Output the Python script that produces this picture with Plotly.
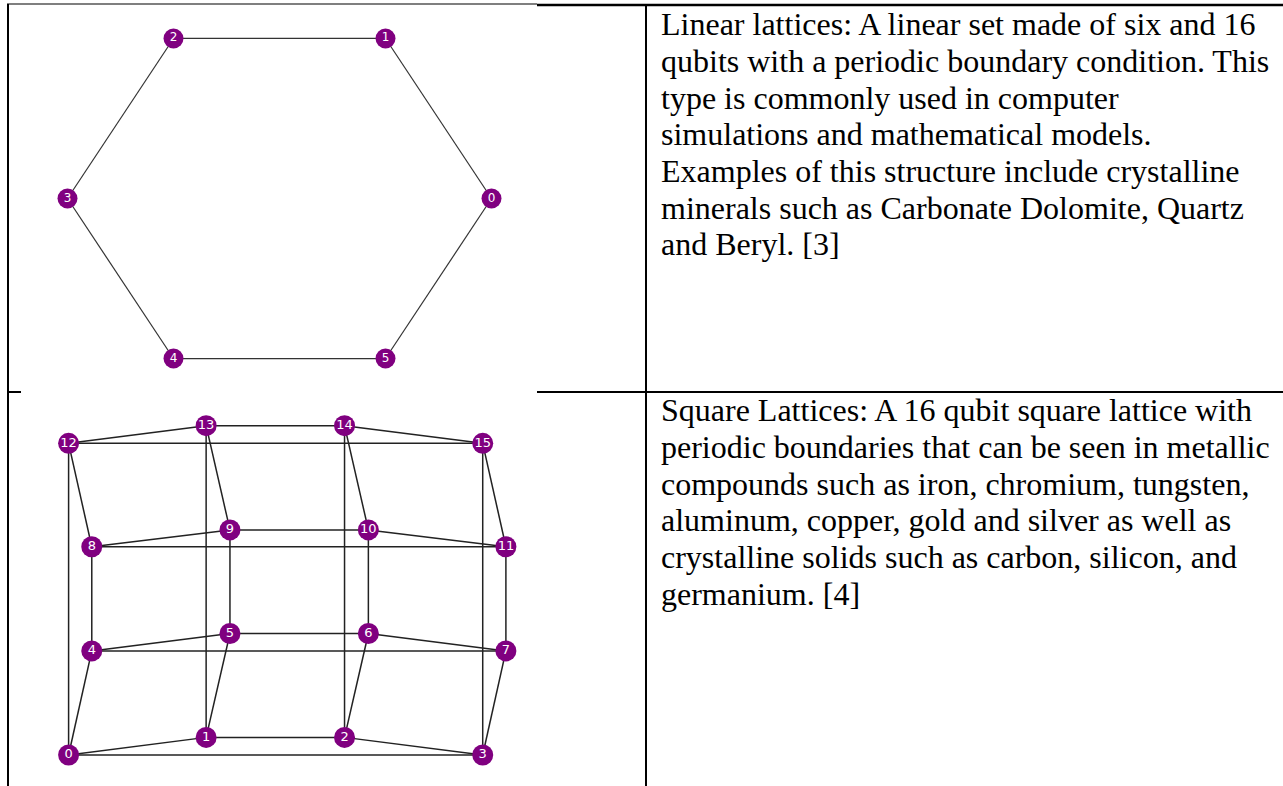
import plotly.graph_objects as go

W, H = 1283, 786

# six-qubit ring (circular layout coordinates)
ring_labels = ["0", "1", "2", "3", "4", "5"]
ring_x = [1.0, 0.5, -0.5, -1.0, -0.5, 0.5]
ring_y = [0.0, 0.866, 0.866, 0.0, -0.866, -0.866]
ring_edges = [(0, 1), (1, 2), (2, 3), (3, 4), (4, 5), (5, 0)]

# 16-qubit square lattice with periodic boundaries
sq_labels = [str(i) for i in range(16)]
sq_x = [-1.0, -0.371, 0.262, 0.894,
        -0.894, -0.262, 0.371, 1.0,
        -0.894, -0.262, 0.371, 1.0,
        -1.0, -0.371, 0.262, 0.894]
sq_y = [-1.0, -0.893, -0.893, -1.0,
        -0.368, -0.262, -0.262, -0.368,
        0.265, 0.367, 0.367, 0.265,
        0.893, 1.0, 1.0, 0.893]
sq_edges = [(0, 1), (1, 2), (2, 3), (3, 0),
            (4, 5), (5, 6), (6, 7), (7, 4),
            (8, 9), (9, 10), (10, 11), (11, 8),
            (12, 13), (13, 14), (14, 15), (15, 12),
            (0, 4), (4, 8), (8, 12), (12, 0),
            (1, 5), (5, 9), (9, 13), (13, 1),
            (2, 6), (6, 10), (10, 14), (14, 2),
            (3, 7), (7, 11), (11, 15), (15, 3)]

text_row1 = [
    "Linear lattices: A linear set made of six and 16",
    "qubits with a periodic boundary condition. This",
    "type is commonly used in computer",
    "simulations and mathematical models.",
    "Examples of this structure include crystalline",
    "minerals such as Carbonate Dolomite, Quartz",
    "and Beryl. [3]",
]
text_row2 = [
    "Square Lattices: A 16 qubit square lattice with",
    "periodic boundaries that can be seen in metallic",
    "compounds such as iron, chromium, tungsten,",
    "aluminum, copper, gold and silver as well as",
    "crystalline solids such as carbon, silicon, and",
    "germanium. [4]",
]


def px_x(p):
    return p / W


def px_y(p):
    return 1 - p / H


def edge_xy(xs, ys, edges):
    ex, ey = [], []
    for a, b in edges:
        ex += [xs[a], xs[b], None]
        ey += [ys[a], ys[b], None]
    return ex, ey


def x_range(lo, hi, center, scale):
    return [(lo - center) / scale, (hi - center) / scale]


def y_range(top, bottom, center, scale):
    return [(center - bottom) / scale, (center - top) / scale]


fig = go.Figure()

# ring graph
ex, ey = edge_xy(ring_x, ring_y, ring_edges)
fig.add_trace(go.Scatter(x=ex, y=ey, mode="lines", xaxis="x", yaxis="y",
                         line=dict(color="#333333", width=1.2), hoverinfo="skip"))
fig.add_trace(go.Scatter(x=ring_x, y=ring_y, mode="markers+text", text=ring_labels,
                         xaxis="x", yaxis="y",
                         marker=dict(size=20, color="#800080", line=dict(width=0)),
                         textposition="middle center",
                         textfont=dict(family="DejaVu Sans", size=12, color="white")))

# square lattice
ex, ey = edge_xy(sq_x, sq_y, sq_edges)
fig.add_trace(go.Scatter(x=ex, y=ey, mode="lines", xaxis="x2", yaxis="y2",
                         line=dict(color="#222222", width=1.5), hoverinfo="skip"))
fig.add_trace(go.Scatter(x=sq_x, y=sq_y, mode="markers+text", text=sq_labels,
                         xaxis="x2", yaxis="y2",
                         marker=dict(size=21, color="#800080", line=dict(width=0)),
                         textposition="middle center",
                         textfont=dict(family="DejaVu Sans", size=13, color="white")))

hidden = dict(visible=False, showgrid=False, zeroline=False, fixedrange=True)

fig.update_layout(
    width=W, height=H,
    margin=dict(l=0, r=0, t=0, b=0),
    paper_bgcolor="white", plot_bgcolor="rgba(0,0,0,0)",
    showlegend=False,
    xaxis=dict(domain=[px_x(21), px_x(537)], range=x_range(21, 537, 279.5, 212), **hidden),
    yaxis=dict(domain=[px_y(392), px_y(5)], range=y_range(5, 392, 198.5, 184.8), **hidden),
    xaxis2=dict(domain=[px_x(21), px_x(537)], range=x_range(21, 537, 287.25, 218.65),
                anchor="y2", **hidden),
    yaxis2=dict(domain=[0, px_y(393)], range=y_range(393, 786, 590.35, 164.65),
                anchor="x2", **hidden),
)

# table borders
borders = [
    (7, 4, 537, 4, 1.2),
    (537, 5, W, 5, 2.5),
    (8, 4, 8, H, 2),
    (646, 4, 646, H, 2),
    (7, 392, 21, 392, 2),
    (537, 392, W, 392, 2),
]
for x0, y0, x1, y1, w in borders:
    fig.add_shape(type="line", xref="paper", yref="paper",
                  x0=px_x(x0), y0=px_y(y0), x1=px_x(x1), y1=px_y(y1),
                  line=dict(color="black", width=w))

# cell text, one annotation per line
line_gap = 36.7
for first_base, lines in [(35, text_row1), (421, text_row2)]:
    for i, t in enumerate(lines):
        base = first_base + i * line_gap
        fig.add_annotation(text=t, xref="paper", yref="paper",
                           x=px_x(659), y=px_y(base - 10.8),
                           xanchor="left", yanchor="middle", showarrow=False,
                           font=dict(family="Liberation Serif", size=32, color="black"))

# drop the default page margin so the figure sits at the window corner
fig.write_html("out.html", config=dict(displayModeBar=False),
               post_script="document.body.style.margin='0';")
